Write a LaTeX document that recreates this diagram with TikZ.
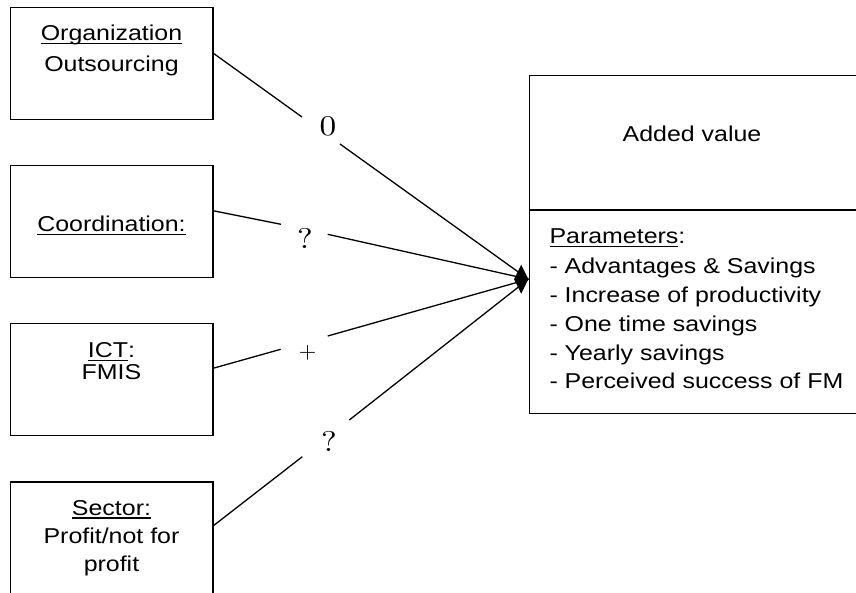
\documentclass[tikz,border=0pt]{standalone}
\usepackage{fontspec}
\setmainfont{Liberation Sans}[FakeStretch=1.16]
\newfontfamily\lmfont{lmroman10-regular.otf}[FakeStretch=1.17]
\newfontfamily\lmplain{lmroman10-regular.otf}
\usetikzlibrary{shapes.geometric}
\newsavebox\ulbox
\newcommand\ulx[1]{\sbox\ulbox{#1}\rlap{\rule[-3.5pt]{\wd\ulbox}{1.3pt}}\usebox\ulbox}
\begin{document}
\begin{tikzpicture}[x=1pt,y=-1pt,
  box/.style={draw, line width=1.5pt, minimum width=202.7pt, minimum height=112pt,
              anchor=north west, inner sep=0pt, outer sep=0pt},
  txt/.style={anchor=base, inner sep=0pt, font=\fontsize{21.5}{26}\selectfont},
  ltxt/.style={txt, anchor=base west},
  lbl/.style={inner sep=0pt, font=\lmfont\fontsize{28.5}{30}\selectfont},
  conn/.style={line width=1.3pt}]
\fill[white] (0,0) rectangle (856,592);
\useasboundingbox (0,0) rectangle (856,592);

% left boxes
\node[box] (o1) at (10.3,7.7) {};
\node[box] (o2) at (10.3,165.7) {};
\node[box] (o3) at (10.3,323.5) {};
\node[box] (o4) at (10.3,482) {};

\node[txt] (t1a) at (111.5,40.7) {\ulx{Organization}};
\node[txt] (t1b) at (111.5,71) {Outsourcing};
\node[txt] (t2a) at (111.5,231.7) {\ulx{Coordination:}};
\node[txt] (t3a) at (111.5,357.5) {\ulx{ICT}:};
\node[txt] (t3b) at (111.5,379) {FMIS};
\node[txt] (t4a) at (111.5,515) {\ulx{Sector:}};
\node[txt] (t4b) at (111.5,543.3) {Profit/not for};
\node[txt] (t4c) at (111.5,571.7) {profit};

% right box
\node[draw, line width=1.5pt, minimum width=330pt, minimum height=338pt,
      anchor=north west, inner sep=0pt, outer sep=0pt] (av) at (529.3,75.3) {};
\draw[line width=1.5pt] (av.west |- 0,210) -- (av.east |- 0,210);
\node[txt] (avt) at (692,141.7) {Added value};
\node[ltxt] (p0) at (549.3,243.3) {\ulx{Parameters}:};
\node[ltxt] (p1) at (549.3,273.3) {- Advantages \& Savings};
\node[ltxt] (p2) at (549.3,302.3) {- Increase of productivity};
\node[ltxt] (p3) at (549.3,331) {- One time savings};
\node[ltxt] (p4) at (549.3,360) {- Yearly savings};
\node[ltxt] (p5) at (549.3,388.3) {- Perceived success of FM};

% diamond head
\node[diamond, fill=black, draw=none, minimum width=14.3pt, minimum height=29pt,
      inner sep=0pt, outer sep=0pt] (dia) at (521.2,279.2) {};

% labels
\node[lbl] (l1) at (328,126) {0};
\node[lbl] (l2) at (305,238) {?};
\node[inner sep=0pt, font=\lmplain\fontsize{22.5}{24}\selectfont] (l3) at (307.5,353) {+};
\node[lbl] (l4) at (329,441) {?};

% gap coordinates
\coordinate (g1a) at (302,117);   \coordinate (g1b) at (340,144);
\coordinate (g2a) at (281,224.3); \coordinate (g2b) at (327.7,234.3);
\coordinate (g3a) at (280.7,349.3); \coordinate (g3b) at (327.7,336);
\coordinate (g4a) at (302.3,456.7); \coordinate (g4b) at (349.3,420);

% connectors
\draw[conn] (o1.east |- 0,53)    -- (g1a);
\draw[conn] (g1b) -- (dia.east);
\draw[conn] (o2.east |- 0,210.7) -- (g2a);
\draw[conn] (g2b) -- (dia.east);
\draw[conn] (o3.east |- 0,368.3) -- (g3a);
\draw[conn] (g3b) -- (dia.east);
\draw[conn] (o4.east |- 0,526)   -- (g4a);
\draw[conn] (g4b) -- (dia.east);
\end{tikzpicture}
\end{document}
